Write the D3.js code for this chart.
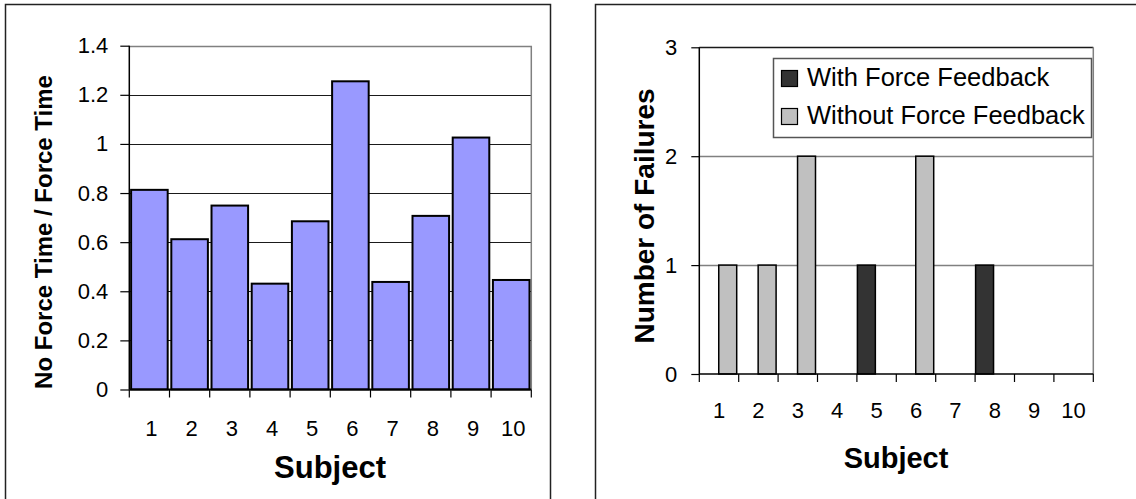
<!DOCTYPE html>
<html>
<head>
<meta charset="utf-8">
<script src="https://cdn.jsdelivr.net/npm/d3@7"></script>
<style>
  html, body { margin: 0; padding: 0; background: #fff; }
  svg { display: block; font-family: "Liberation Sans", Arial, sans-serif; }
</style>
</head>
<body>
<svg id="chart" width="1136" height="499"></svg>
<script>
// Subjects shared by both panels
const subjects = ["1", "2", "3", "4", "5", "6", "7", "8", "9", "10"];

// Left panel: ratio of completion times per subject
const timeRatio = [0.813, 0.612, 0.749, 0.431, 0.685, 1.255, 0.438, 0.707, 1.026, 0.446];
const ratioTicks = [0, 0.2, 0.4, 0.6, 0.8, 1, 1.2, 1.4];
const ratioTickLabels = ["0", "0.2", "0.4", "0.6", "0.8", "1", "1.2", "1.4"];

// Right panel: failure counts per subject
const seriesNames = ["With Force Feedback", "Without Force Feedback"];
const failuresWith = [0, 0, 0, 0, 1, 0, 0, 1, 0, 0];
const failuresWithout = [1, 1, 2, 0, 0, 2, 0, 0, 0, 0];
const failureTicks = [0, 1, 2, 3];
const failureTickLabels = ["0", "1", "2", "3"];

const seriesColors = ["#333333", "#c0c0c0"];

const svg = d3.select("#chart");

// ---------- Left panel ----------
{
  const g = svg.append("g");
  g.append("rect").attr("x", 5.5).attr("y", 4.5).attr("width", 545).attr("height", 520)
    .attr("fill", "#fff").attr("stroke", "#222").attr("stroke-width", 1.5);

  const left = 129.3, right = 531.3, top = 45.7, bottom = 389.5;
  const x = d3.scaleBand().domain(subjects).range([left, right]).paddingInner(0.09).paddingOuter(0.045);
  const xb = d3.scaleBand().domain(subjects).range([left, right]).padding(0);
  const y = d3.scaleLinear().domain([0, 1.4]).range([bottom, top]);

  // horizontal gridlines
  g.append("g").selectAll("line").data(ratioTicks.slice(1, -1)).join("line")
    .attr("x1", left).attr("x2", right)
    .attr("y1", d => Math.round(y(d)) + 0.5).attr("y2", d => Math.round(y(d)) + 0.5)
    .attr("stroke", "#1a1a1a").attr("stroke-width", 1);

  // plot-area border (top and right)
  g.append("path")
    .attr("d", `M${left},${Math.round(top) + 0.5}H${right}V${bottom}`)
    .attr("fill", "none").attr("stroke", "#808080").attr("stroke-width", 1.5);

  // bars
  g.append("g").selectAll("rect").data(timeRatio).join("rect")
    .attr("x", (d, i) => x(subjects[i]))
    .attr("width", x.bandwidth())
    .attr("y", d => y(d))
    .attr("height", d => y(0) - y(d))
    .attr("fill", "#9999ff").attr("stroke", "#000").attr("stroke-width", 2);

  // y axis
  const yAxis = d3.axisLeft(y).tickValues(ratioTicks)
    .tickFormat((d, i) => ratioTickLabels[i]).tickSize(9).tickPadding(12);
  const ya = g.append("g").attr("transform", `translate(${left},0)`).call(yAxis);
  ya.select(".domain").attr("stroke", "#000").attr("stroke-width", 1.5).attr("d", `M0,${top}V${bottom}`);
  ya.selectAll(".tick line").attr("stroke", "#000").attr("stroke-width", 1.2);
  ya.selectAll(".tick text").attr("font-size", 22).attr("fill", "#000")
    .attr("font-family", "Liberation Sans, Arial, sans-serif");

  // x axis: ticks at category boundaries, labels centred in each band
  const bounds = subjects.map(s => xb(s)).concat([right]);
  const xa = g.append("g");
  xa.append("line").attr("x1", left).attr("x2", right).attr("y1", bottom).attr("y2", bottom)
    .attr("stroke", "#000").attr("stroke-width", 2);
  xa.selectAll("line.tk").data(bounds).join("line").attr("class", "tk")
    .attr("x1", d => d).attr("x2", d => d).attr("y1", bottom).attr("y2", bottom + 8)
    .attr("stroke", "#000").attr("stroke-width", 1.2);
  xa.selectAll("text").data(subjects).join("text")
    .attr("x", d => xb(d) + xb.bandwidth() / 2 + 2).attr("y", 436)
    .attr("text-anchor", "middle").attr("font-size", 22).text(d => d);

  g.append("text").attr("x", 330).attr("y", 478).attr("text-anchor", "middle")
    .attr("font-size", 31).attr("font-weight", "bold").text("Subject");

  g.append("text").attr("transform", "translate(52,232) rotate(-90)")
    .attr("text-anchor", "middle").attr("font-size", 24).attr("font-weight", "bold")
    .text("No Force Time / Force Time");
}

// ---------- Right panel ----------
{
  const g = svg.append("g");
  g.append("rect").attr("x", 595.5).attr("y", 4.5).attr("width", 560).attr("height", 520)
    .attr("fill", "#fff").attr("stroke", "#222").attr("stroke-width", 1.5);

  const left = 699.3, right = 1093.3, top = 47.3, bottom = 374;
  const x0 = d3.scaleBand().domain(subjects).range([left, right]).padding(0);
  const x1 = d3.scaleBand().domain(seriesNames).range([0, x0.bandwidth() - 1.5]).padding(0);
  const y = d3.scaleLinear().domain([0, 3]).range([bottom, top]);

  // gridlines
  g.append("g").selectAll("line").data(failureTicks.slice(1, -1)).join("line")
    .attr("x1", left).attr("x2", right)
    .attr("y1", d => Math.round(y(d)) + 0.5).attr("y2", d => Math.round(y(d)) + 0.5)
    .attr("stroke", "#808080").attr("stroke-width", 1.5);

  // plot-area border
  g.append("line").attr("x1", left).attr("x2", right)
    .attr("y1", Math.round(top) + 0.5).attr("y2", Math.round(top) + 0.5)
    .attr("stroke", "#1a1a1a").attr("stroke-width", 1.5);
  g.append("line").attr("x1", right).attr("x2", right).attr("y1", top).attr("y2", bottom)
    .attr("stroke", "#808080").attr("stroke-width", 1.5);

  // bars
  const rows = subjects.map((s, i) => ({ s, vals: [failuresWith[i], failuresWithout[i]] }));
  const grp = g.append("g").selectAll("g").data(rows).join("g")
    .attr("transform", d => `translate(${x0(d.s)},0)`);
  grp.selectAll("rect")
    .data(d => d.vals.map((v, k) => ({ v, k })).filter(e => e.v > 0))
    .join("rect")
    .attr("x", e => x1(seriesNames[e.k]) + 0.5)
    .attr("width", x1.bandwidth() - 1)
    .attr("y", e => y(e.v))
    .attr("height", e => y(0) - y(e.v))
    .attr("fill", e => seriesColors[e.k]).attr("stroke", "#000").attr("stroke-width", 1.5);

  // y axis
  const yAxis = d3.axisLeft(y).tickValues(failureTicks)
    .tickFormat((d, i) => failureTickLabels[i]).tickSize(8).tickPadding(14);
  const ya = g.append("g").attr("transform", `translate(${left},0)`).call(yAxis);
  ya.select(".domain").attr("stroke", "#000").attr("stroke-width", 1.5).attr("d", `M0,${top}V${bottom}`);
  ya.selectAll(".tick line").attr("stroke", "#000").attr("stroke-width", 1.2);
  ya.selectAll(".tick text").attr("font-size", 22).attr("fill", "#000")
    .attr("font-family", "Liberation Sans, Arial, sans-serif");

  // x axis
  const bounds = subjects.map(s => x0(s)).concat([right]);
  const xa = g.append("g");
  xa.append("line").attr("x1", left).attr("x2", right).attr("y1", bottom).attr("y2", bottom)
    .attr("stroke", "#000").attr("stroke-width", 1.5);
  xa.selectAll("line.tk").data(bounds).join("line").attr("class", "tk")
    .attr("x1", d => d).attr("x2", d => d).attr("y1", bottom).attr("y2", bottom + 8)
    .attr("stroke", "#000").attr("stroke-width", 1.2);
  xa.selectAll("text").data(subjects).join("text")
    .attr("x", d => x0(d) + x0.bandwidth() / 2).attr("y", 418)
    .attr("text-anchor", "middle").attr("font-size", 22).text(d => d);

  g.append("text").attr("x", 896).attr("y", 468).attr("text-anchor", "middle")
    .attr("font-size", 29).attr("font-weight", "bold").text("Subject");

  g.append("text").attr("transform", "translate(654,216) rotate(-90)")
    .attr("text-anchor", "middle").attr("font-size", 28).attr("font-weight", "bold")
    .text("Number of Failures");

  // legend
  const lg = g.append("g");
  lg.append("rect").attr("x", 773.5).attr("y", 58.5).attr("width", 318).attr("height", 79)
    .attr("fill", "#fff").attr("stroke", "#555").attr("stroke-width", 1.5);
  const items = lg.selectAll("g").data(seriesNames).join("g")
    .attr("transform", (d, i) => `translate(781,${70 + i * 38})`);
  items.append("rect").attr("x", 0.5).attr("y", 0.5).attr("width", 16).attr("height", 16)
    .attr("fill", (d, i) => seriesColors[i]).attr("stroke", "#000").attr("stroke-width", 1.2);
  items.append("text").attr("x", 26).attr("y", 15.5).attr("font-size", 25.5).text(d => d);
}
</script>
</body>
</html>
